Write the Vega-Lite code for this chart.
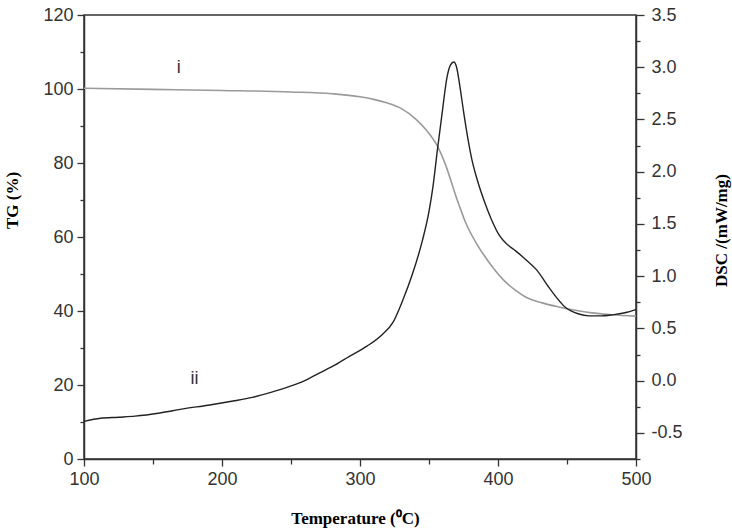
{
  "$schema": "https://vega.github.io/schema/vega-lite/v6.json",
  "description": "TG and DSC curves against temperature",
  "width": 552,
  "height": 444,
  "autosize": "none",
  "padding": {"left": 84, "top": 15, "right": 96, "bottom": 71},
  "datasets": {
    "tg": [
      {"T": 100, "TG": 100.2}, {"T": 150, "TG": 99.9}, {"T": 200, "TG": 99.6},
      {"T": 250, "TG": 99.2}, {"T": 280, "TG": 98.7}, {"T": 300, "TG": 97.9},
      {"T": 310, "TG": 97.2}, {"T": 320, "TG": 96.2}, {"T": 330, "TG": 94.7},
      {"T": 340, "TG": 92.0}, {"T": 348, "TG": 88.9}, {"T": 356, "TG": 84.6},
      {"T": 362, "TG": 79.5}, {"T": 370, "TG": 70.5}, {"T": 377, "TG": 63.5},
      {"T": 384, "TG": 58.5}, {"T": 390, "TG": 55.0}, {"T": 396, "TG": 51.9},
      {"T": 405, "TG": 48.0}, {"T": 413, "TG": 45.5}, {"T": 420, "TG": 43.8},
      {"T": 432, "TG": 42.2}, {"T": 444, "TG": 41.1}, {"T": 456, "TG": 40.2},
      {"T": 468, "TG": 39.5}, {"T": 483, "TG": 39.0}, {"T": 500, "TG": 38.6}
    ],
    "dsc": [
      {"T": 100, "DSC": -0.39}, {"T": 112, "DSC": -0.36}, {"T": 125, "DSC": -0.35},
      {"T": 137, "DSC": -0.34}, {"T": 155, "DSC": -0.31}, {"T": 172, "DSC": -0.27},
      {"T": 190, "DSC": -0.235}, {"T": 208, "DSC": -0.195}, {"T": 222, "DSC": -0.16},
      {"T": 236, "DSC": -0.11}, {"T": 248, "DSC": -0.06}, {"T": 260, "DSC": 0.0},
      {"T": 270, "DSC": 0.07}, {"T": 282, "DSC": 0.15}, {"T": 292, "DSC": 0.23},
      {"T": 305, "DSC": 0.33}, {"T": 316, "DSC": 0.44}, {"T": 324, "DSC": 0.56},
      {"T": 331, "DSC": 0.77}, {"T": 338, "DSC": 1.02}, {"T": 345, "DSC": 1.33},
      {"T": 350, "DSC": 1.62}, {"T": 353, "DSC": 1.87}, {"T": 356, "DSC": 2.2},
      {"T": 359.7, "DSC": 2.58}, {"T": 363, "DSC": 2.9}, {"T": 365.5, "DSC": 3.02},
      {"T": 368, "DSC": 3.05}, {"T": 370, "DSC": 3.0}, {"T": 372, "DSC": 2.85},
      {"T": 375, "DSC": 2.58}, {"T": 378, "DSC": 2.33}, {"T": 381, "DSC": 2.12},
      {"T": 385, "DSC": 1.92}, {"T": 390, "DSC": 1.72}, {"T": 395, "DSC": 1.55},
      {"T": 401, "DSC": 1.39}, {"T": 407, "DSC": 1.3}, {"T": 413, "DSC": 1.24},
      {"T": 420, "DSC": 1.16}, {"T": 428, "DSC": 1.06}, {"T": 437, "DSC": 0.89},
      {"T": 449, "DSC": 0.7}, {"T": 458, "DSC": 0.64}, {"T": 466, "DSC": 0.62},
      {"T": 475, "DSC": 0.62}, {"T": 483, "DSC": 0.63}, {"T": 492, "DSC": 0.65},
      {"T": 500, "DSC": 0.68}
    ],
    "labels": [
      {"T": 168.7, "TG": 105.8, "label": "i"},
      {"T": 180, "TG": 21.5, "label": "ii"}
    ]
  },
  "encoding": {
    "x": {
      "field": "T",
      "type": "quantitative",
      "scale": {"domain": [100, 500], "nice": false},
      "axis": {
        "title": "Temperature (⁰C)",
        "values": [100, 150, 200, 250, 300, 350, 400, 450, 500],
        "labelExpr": "datum.value % 100 === 0 ? datum.label : ''",
        "tickSize": {"condition": {"test": "datum.value % 100 === 0", "value": 7}, "value": 5},
        "labelPadding": 4,
        "titleX": 271,
        "titleY": 59,
        "titleAlign": "center",
        "titleBaseline": "middle"
      }
    }
  },
  "layer": [
    {
      "encoding": {
        "y": {
          "field": "TG",
          "type": "quantitative",
          "scale": {"domain": [0, 120], "nice": false},
          "axis": {
            "title": "TG (%)",
            "orient": "left",
            "values": [0, 10, 20, 30, 40, 50, 60, 70, 80, 90, 100, 110, 120],
            "labelExpr": "datum.value % 20 === 0 ? datum.label : ''",
            "tickSize": {"condition": {"test": "datum.value % 20 === 0", "value": 7}, "value": 4},
            "labelPadding": 4,
            "titleAngle": -90,
            "titleX": -72,
            "titleY": 185,
            "titleAlign": "center",
            "titleBaseline": "middle"
          }
        }
      },
      "layer": [
        {
          "data": {"name": "tg"},
          "mark": {"type": "line", "interpolate": "monotone", "stroke": "#9a9a9a", "strokeWidth": 1.6}
        },
        {
          "data": {"name": "labels"},
          "mark": {"type": "text", "font": "Liberation Sans", "fontSize": 18, "fill": "#333", "align": "center", "baseline": "middle"},
          "encoding": {"text": {"field": "label", "type": "nominal"}}
        }
      ]
    },
    {
      "data": {"name": "dsc"},
      "mark": {"type": "line", "interpolate": "monotone", "stroke": "#222", "strokeWidth": 1.4},
      "encoding": {
        "y": {
          "field": "DSC",
          "type": "quantitative",
          "scale": {"domain": [-0.75, 3.5], "nice": false, "zero": false},
          "axis": {
            "title": "DSC /(mW/mg)",
            "orient": "right",
            "values": [-0.75, -0.5, -0.25, 0, 0.25, 0.5, 0.75, 1, 1.25, 1.5, 1.75, 2, 2.25, 2.5, 2.75, 3, 3.25, 3.5],
            "labelExpr": "abs(datum.value * 2 - round(datum.value * 2)) < 0.001 ? (datum.value < 0 ? '-' + format(-datum.value, '.1f') : format(datum.value, '.1f')) : ''",
            "tickSize": {"condition": {"test": "abs(datum.value * 2 - round(datum.value * 2)) < 0.001", "value": 8}, "value": 4},
            "labelPadding": 7,
            "titleAngle": -90,
            "titleX": 85,
            "titleY": 215,
            "titleAlign": "center",
            "titleBaseline": "middle"
          }
        }
      }
    }
  ],
  "resolve": {"scale": {"y": "independent"}},
  "config": {
    "view": {"stroke": "#333", "strokeWidth": 1.5},
    "axis": {
      "domainColor": "#333",
      "domainWidth": 1.5,
      "tickColor": "#333",
      "tickWidth": 1.3,
      "grid": false,
      "labelFont": "Liberation Sans",
      "labelFontSize": 18,
      "labelColor": "#333",
      "labelFlush": false,
      "labelOverlap": false,
      "titleFont": "Liberation Serif",
      "titleFontSize": 17,
      "titleFontWeight": "bold",
      "titleColor": "#000"
    }
  }
}
